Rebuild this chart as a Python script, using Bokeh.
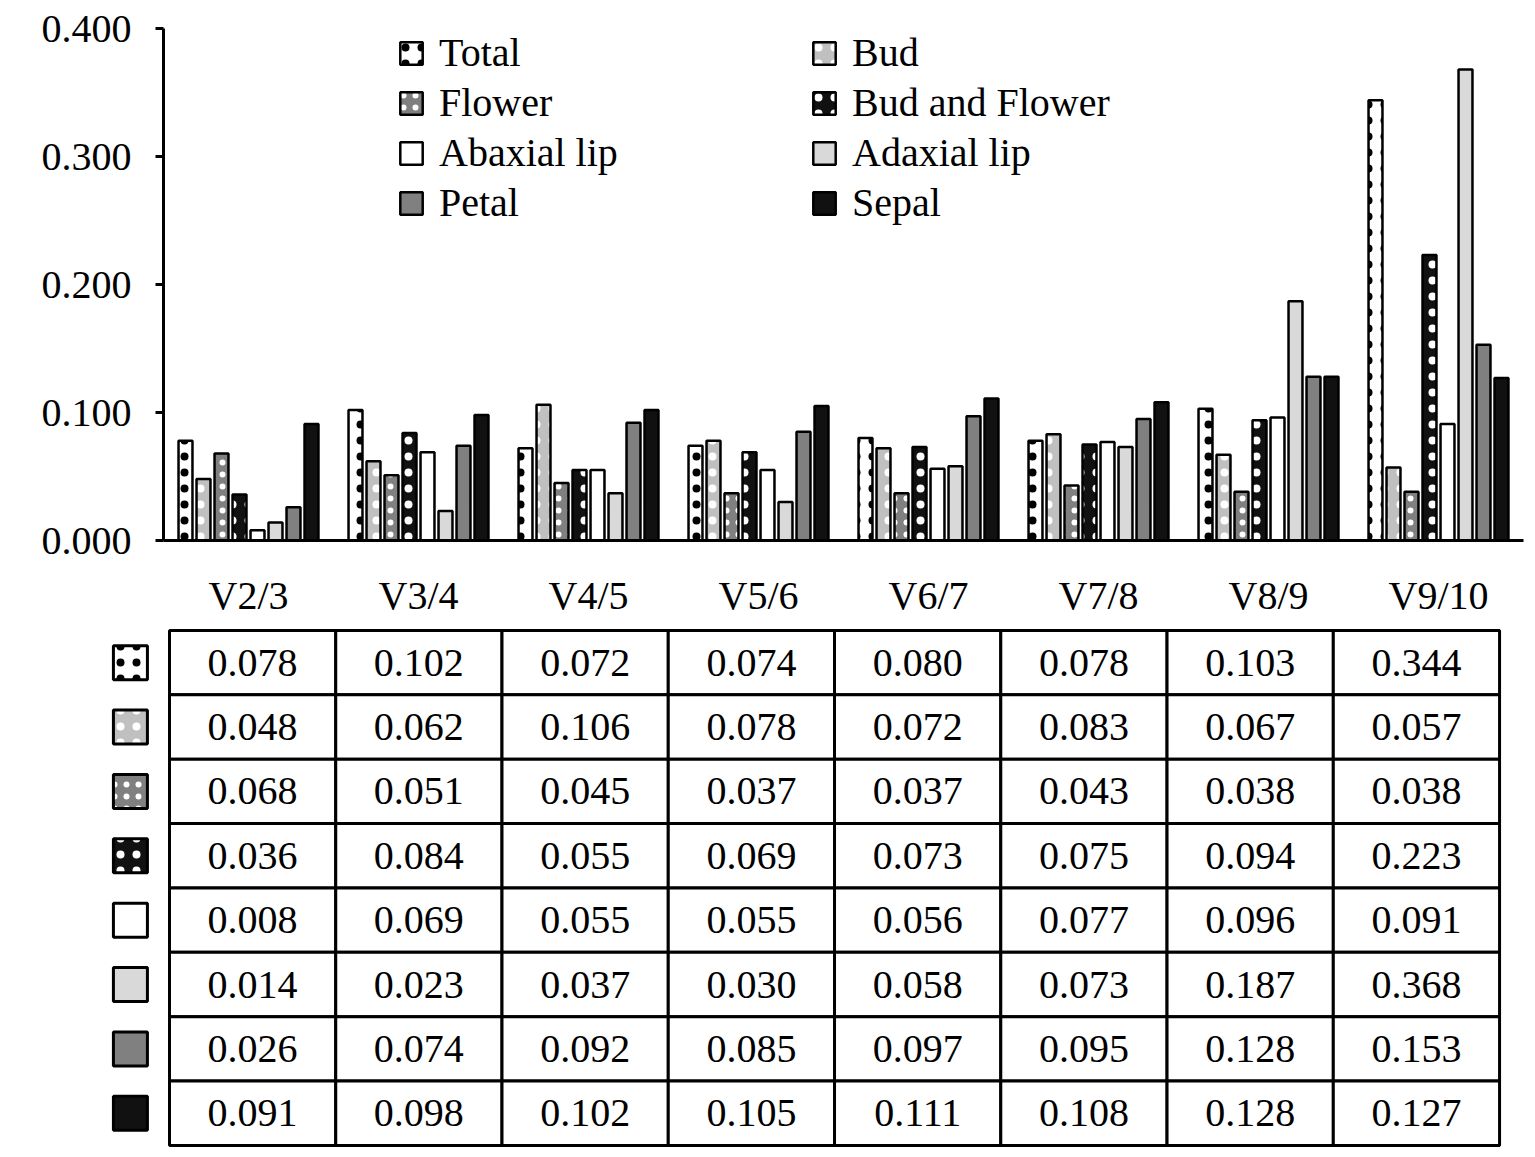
from bokeh.plotting import figure
from bokeh.layouts import column
from bokeh.models import (ColumnDataSource, FactorRange, Range1d, FixedTicker,
                          NumeralTickFormatter, Legend, LegendItem)
from bokeh.transform import dodge
from bokeh.core.properties import value
from bokeh.embed import file_html
from bokeh.resources import INLINE

FONT = "Liberation Serif"

groups = ['V2/3', 'V3/4', 'V4/5', 'V5/6', 'V6/7', 'V7/8', 'V8/9', 'V9/10']
series = ['Total', 'Bud', 'Flower', 'Bud and Flower', 'Abaxial lip', 'Adaxial lip', 'Petal', 'Sepal']

total = [0.078, 0.102, 0.072, 0.074, 0.080, 0.078, 0.103, 0.344]
bud = [0.048, 0.062, 0.106, 0.078, 0.072, 0.083, 0.067, 0.057]
flower = [0.068, 0.051, 0.045, 0.037, 0.037, 0.043, 0.038, 0.038]
bud_flower = [0.036, 0.084, 0.055, 0.069, 0.073, 0.075, 0.094, 0.223]
abaxial = [0.008, 0.069, 0.055, 0.055, 0.056, 0.077, 0.096, 0.091]
adaxial = [0.014, 0.023, 0.037, 0.030, 0.058, 0.073, 0.187, 0.368]
petal = [0.026, 0.074, 0.092, 0.085, 0.097, 0.095, 0.128, 0.153]
sepal = [0.091, 0.098, 0.102, 0.105, 0.111, 0.108, 0.128, 0.127]

y_ticks = [0.0, 0.1, 0.2, 0.3, 0.4]

all_vals = [total, bud, flower, bud_flower, abaxial, adaxial, petal, sepal]

# styles
fills = ['white', '#c0c0c0', '#808080', '#111111', 'white', '#d9d9d9', '#808080', '#111111']
hatch = ['dot', 'dot', 'dot', 'dot', None, None, None, None]
hatch_cols = ['black', 'white', 'white', 'white', 'black', 'black', 'black', 'black']
hatch_sc = [16, 16, 12, 16, 12, 12, 12, 12]

def style(i, lw):
    kw = dict(fill_color=fills[i], line_color='black', line_width=lw)
    if hatch[i]:
        kw.update(hatch_pattern=hatch[i], hatch_color=hatch_cols[i],
                  hatch_scale=hatch_sc[i], hatch_weight=0.5)
    return kw

data = {'group': groups}
for i, s in enumerate(series):
    data['s%d' % i] = all_vals[i]
source = ColumnDataSource(data)

p = figure(x_range=FactorRange(*groups), y_range=Range1d(0, 0.4),
           frame_width=1360, frame_height=512,
           min_border_left=163, min_border_top=28, min_border_right=4, min_border_bottom=82,
           output_backend="svg", toolbar_location=None)
p.outline_line_color = None
p.xgrid.grid_line_color = None
p.ygrid.grid_line_color = None

step = 18 / 170
renderers = []
for i, s in enumerate(series):
    r = p.vbar(x=dodge('group', (i - 3.5) * step, range=p.x_range), top='s%d' % i,
               width=0.082, source=source, **style(i, 2.5))
    renderers.append(r)

for items, xloc in [([0, 2, 4, 6], 234), ([1, 3, 5, 7], 647)]:
    leg = Legend(items=[LegendItem(label=series[k], renderers=[renderers[k]]) for k in items],
                 location=(xloc, 314))
    leg.padding = 0
    leg.spacing = 3
    leg.margin = 0
    leg.border_line_color = None
    leg.background_fill_alpha = 0
    leg.glyph_width = 28
    leg.glyph_height = 28
    leg.label_height = 46
    leg.label_standoff = 14
    leg.label_text_font = FONT
    leg.label_text_font_size = '40px'
    leg.label_text_color = 'black'
    p.add_layout(leg, 'center')

p.yaxis.ticker = FixedTicker(ticks=y_ticks)
p.yaxis.formatter = NumeralTickFormatter(format="0.000")
p.yaxis.major_tick_out = 8
p.yaxis.major_tick_in = 0
p.yaxis.minor_tick_line_color = None
p.yaxis.major_label_standoff = 24
p.xaxis.major_label_standoff = 26
p.axis.axis_line_width = 3
p.axis.major_tick_line_width = 3
p.axis.axis_line_color = 'black'
p.yaxis.major_tick_line_color = 'black'
p.xaxis.major_tick_line_color = None
p.axis.major_label_text_font = FONT
p.axis.major_label_text_font_size = '40px'
p.axis.major_label_text_color = 'black'

# table below the chart
cx, cy, txt = [], [], []
for r, vals in enumerate(all_vals):
    for c, v in enumerate(vals):
        cx.append(c + 0.5)
        cy.append(r + 0.5)
        txt.append('%.3f' % v)
cells = ColumnDataSource(dict(x=cx, y=cy, text=txt))

t = figure(x_range=Range1d(-0.036, 8.144), y_range=Range1d(8.078, -0.124),
           frame_width=1360, frame_height=528, x_axis_type=None, y_axis_type=None,
           min_border_left=163, min_border_right=4, min_border_top=0, min_border_bottom=0,
           output_backend="svg", toolbar_location=None)
t.outline_line_color = None
t.xgrid.grid_line_color = None
t.ygrid.grid_line_color = None

t.rect(x='x', y='y', width=1, height=1, source=cells, fill_color='white',
       line_color='black', line_width=3)
t.text(x='x', y='y', text='text', source=cells, text_align='center', text_baseline='middle',
       text_font=value(FONT), text_font_size='40px', text_color='black')

# row keys sit left of the table, outside the frame
for i, s in enumerate(series):
    key = t.rect(x=[-0.235], y=[i + 0.5], width=34, height=34,
                 width_units='screen', height_units='screen', **style(i, 3))
    key.level = 'overlay'

layout = column(p, t, spacing=0)
open("out.html", "w").write(file_html(layout, INLINE))
